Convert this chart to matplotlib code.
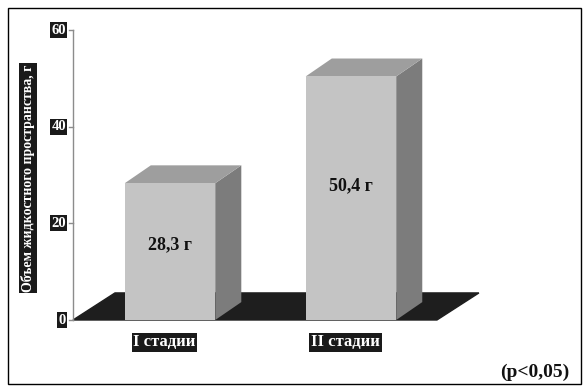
import numpy as np
import matplotlib.pyplot as plt
from matplotlib.patches import Rectangle, Polygon

# данные
stages = ['I стадии', 'II стадии']
volumes = [28.3, 50.4]
value_labels = ['28,3 г', '50,4 г']
y_ticks = [0, 20, 40, 60]
y_label = 'Объем жидкостного пространства, г'
note = '(p<0,05)'

plt.rcParams['font.family'] = ['Liberation Serif', 'DejaVu Serif']

fig = plt.figure(figsize=(5.85, 3.89), dpi=100)
fig.patch.set_facecolor('white')

# рамка вокруг рисунка
fig.add_artist(Rectangle((8 / 585, 1 - 384 / 389), 573 / 585, 376 / 389,
                         transform=fig.transFigure, fill=False,
                         edgecolor='black', linewidth=1.0))

# оси: 0 -> 320 px, 60 -> 30 px по вертикали
ax = fig.add_axes([73 / 585, 1 - 320 / 389, 407 / 585, 290 / 389])
ax.set_xlim(-0.536, 1.713)
ax.set_ylim(0, 60)
ax.axis('off')

# ось Y
ax.plot([-0.536, -0.536], [0, 60], color='#8c8c8c', lw=1.0, clip_on=False)
for t in y_ticks:
    ax.plot([-0.556, -0.536], [t, t], color='#8c8c8c', lw=1.0, clip_on=False)
    ax.text(-0.575, t, str(t), ha='right', va='center', fontsize=10.5,
            fontweight='bold', color='white',
            bbox=dict(boxstyle='square,pad=0.1', fc='#1a1a1a', ec='none'))

# пол (тёмный параллелограмм)
fdx, fdy = 0.232, 5.6
floor_x0, floor_x1 = -0.536, 1.475
ax.add_patch(Polygon([(floor_x0, 0), (floor_x1, 0),
                      (floor_x1 + fdx, fdy), (floor_x0 + fdx, fdy)],
                     closed=True, fc='#1e1e1e', ec='#1e1e1e', clip_on=False))

# объёмные столбики
w = 0.5
ddx, ddy = 0.144, 3.7
xs = np.arange(len(stages))
for x, v, lab in zip(xs, volumes, value_labels):
    l, r = x - w / 2, x + w / 2
    # боковая грань
    ax.add_patch(Polygon([(r, 0), (r + ddx, ddy), (r + ddx, v + ddy), (r, v)],
                         closed=True, fc='#7c7c7c', ec='none', clip_on=False))
    # верхняя грань
    ax.add_patch(Polygon([(l, v), (r, v), (r + ddx, v + ddy), (l + ddx, v + ddy)],
                         closed=True, fc='#9e9e9e', ec='none', clip_on=False))
    # передняя грань
    ax.bar(x, v, width=w, color='#c4c4c4', edgecolor='none', clip_on=False)
    ax.text(x, v * 0.55, lab, ha='center', va='center', fontsize=13,
            fontweight='bold', color='#111111')

# подписи категорий
for x, s in zip(xs, stages):
    ax.text(x - 0.03, -4.6, s, ha='center', va='center', fontsize=12,
            fontweight='bold', color='white',
            bbox=dict(boxstyle='square,pad=0.1', fc='#1a1a1a', ec='none'))

# подпись оси Y
fig.text(28 / 585, 1 - 178 / 389, y_label, rotation=90, ha='center',
         va='center', fontsize=10, fontweight='bold', color='white',
         bbox=dict(boxstyle='square,pad=0.12', fc='#1a1a1a', ec='none'))

fig.text(535 / 585, 1 - 372 / 389, note, ha='center', va='center',
         fontsize=14, fontweight='bold', color='#111111')

fig.savefig('out.png', dpi=100)
